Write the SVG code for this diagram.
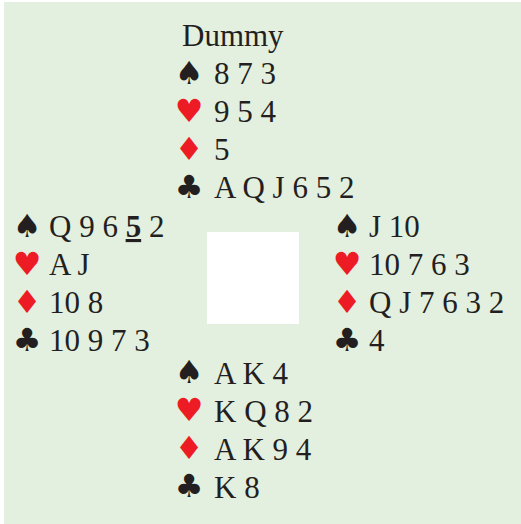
<svg xmlns="http://www.w3.org/2000/svg" width="521" height="524" viewBox="0 0 521 524">
<style>
.t{font-family:"Liberation Serif","Times New Roman",serif;font-size:31px;fill:#231f20}
.s{font-family:"DejaVu Sans",sans-serif;font-size:32px;text-anchor:middle}
.b{fill:#231f20}
.r{fill:#ed1c24}
</style>
<rect x="0" y="0" width="521" height="524" fill="#ffffff"/>
<rect x="4" y="2" width="517" height="522" fill="#e3efdf"/>
<rect id="table" x="207" y="232" width="92" height="92" fill="#ffffff"/>
<g id="north">
<text class="t" x="182" y="46" font-size="32">Dummy</text>
<text class="s b" x="189" y="84">♠</text><text class="t" x="214" y="84">8 7 3</text>
<text class="s r" x="189" y="122">♥</text><text class="t" x="214" y="122">9 5 4</text>
<text class="s r" x="189" y="160">♦</text><text class="t" x="214" y="160">5</text>
<text class="s b" x="189" y="198">♣</text><text class="t" x="214" y="198">A Q J 6 5 2</text>
</g>
<g id="west">
<text class="s b" x="27" y="237">♠</text><text class="t" x="49" y="237">Q 9 6 <tspan font-weight="bold" text-decoration="underline">5</tspan> 2</text>
<text class="s r" x="27" y="275">♥</text><text class="t" x="49" y="275">A J</text>
<text class="s r" x="27" y="313">♦</text><text class="t" x="49" y="313">10 8</text>
<text class="s b" x="27" y="351">♣</text><text class="t" x="49" y="351">10 9 7 3</text>
</g>
<g id="east">
<text class="s b" x="347" y="237">♠</text><text class="t" x="369" y="237">J 10</text>
<text class="s r" x="347" y="275">♥</text><text class="t" x="369" y="275">10 7 6 3</text>
<text class="s r" x="347" y="313">♦</text><text class="t" x="369" y="313">Q J 7 6 3 2</text>
<text class="s b" x="347" y="351">♣</text><text class="t" x="369" y="351">4</text>
</g>
<g id="south">
<text class="s b" x="189" y="383">♠</text><text class="t" x="214" y="384">A K 4</text>
<text class="s r" x="189" y="421">♥</text><text class="t" x="214" y="422">K Q 8 2</text>
<text class="s r" x="189" y="459">♦</text><text class="t" x="214" y="460">A K 9 4</text>
<text class="s b" x="189" y="497">♣</text><text class="t" x="214" y="498">K 8</text>
</g>
<g id="connectors"></g>
</svg>
